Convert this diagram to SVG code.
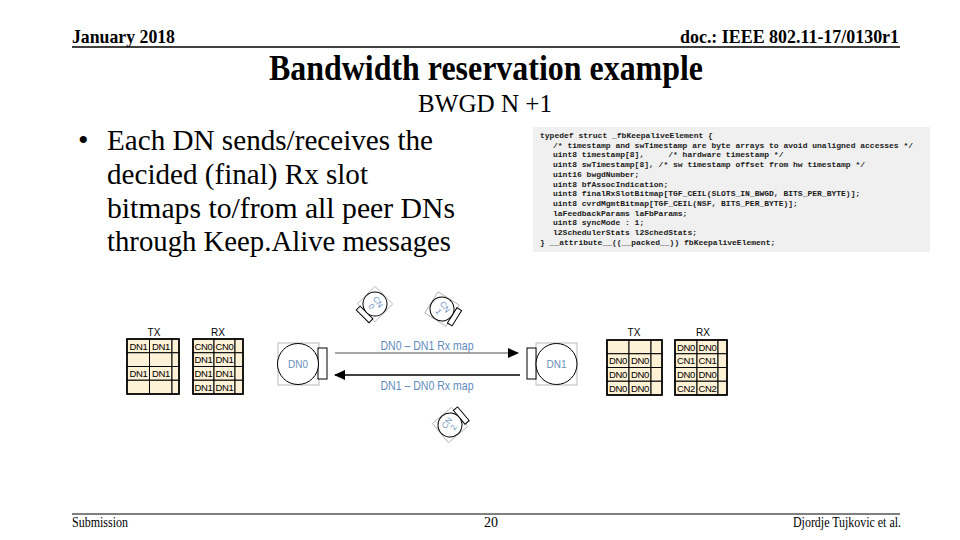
<svg xmlns="http://www.w3.org/2000/svg" width="960" height="540" viewBox="0 0 960 540">
<style>
.hdr{font-family:"Liberation Serif",serif;font-weight:bold;font-size:19px;fill:#000}
.ftr{font-family:"Liberation Serif",serif;font-size:14px;fill:#000}
.bul{font-family:"Liberation Serif",serif;font-size:30px;fill:#000}
.code{font-family:"Liberation Mono",monospace;font-size:8px;font-weight:bold;fill:#1a1a1a;white-space:pre}
.cell{fill:#fdf1d6;stroke:#000;stroke-width:1}
.outer{fill:none;stroke:#000;stroke-width:1.6}
.ct{font-family:"Liberation Sans",sans-serif;font-size:9.5px;letter-spacing:-0.3px;fill:#000;text-anchor:middle}
.lbl{font-family:"Liberation Sans",sans-serif;font-size:10px;fill:#000;text-anchor:middle}
.box{fill:none;stroke:#a8a8a8;stroke-width:0.8}
.circ{fill:#fff;stroke:#000;stroke-width:1}
.bar{fill:#fff;stroke:#000;stroke-width:1}
.nt{font-family:"Liberation Sans",sans-serif;fill:#6b8fbb;text-anchor:middle}
.al{font-family:"Liberation Sans",sans-serif;font-size:13px;fill:#5f8cbd;text-anchor:middle}
</style>
<defs>
<marker id="ah" markerUnits="userSpaceOnUse" markerWidth="12" markerHeight="10" refX="10" refY="5" orient="auto">
<path d="M0,0 L11,5 L0,10 Z" fill="#000"/>
</marker>
</defs>
<rect width="960" height="540" fill="#fff"/>

<g id="header">
<text class="hdr" x="72" y="43" textLength="103" lengthAdjust="spacingAndGlyphs">January 2018</text>
<text class="hdr" x="899" y="43" text-anchor="end" textLength="219" lengthAdjust="spacingAndGlyphs">doc.: IEEE 802.11-17/0130r1</text>
<line x1="72" y1="47" x2="900" y2="47" stroke="#000" stroke-width="1.5"/>
<text x="486" y="80" text-anchor="middle" font-family="Liberation Serif, serif" font-weight="bold" font-size="35" textLength="434" lengthAdjust="spacingAndGlyphs">Bandwidth reservation example</text>
<text x="485" y="112" text-anchor="middle" font-family="Liberation Serif, serif" font-size="25" textLength="134" lengthAdjust="spacingAndGlyphs">BWGD N +1</text>
</g>

<g id="bullets">
<text class="bul" x="78" y="150">•</text>
<text class="bul" x="107" y="150" textLength="326" lengthAdjust="spacingAndGlyphs">Each DN sends/receives the</text>
<text class="bul" x="107" y="184" textLength="261" lengthAdjust="spacingAndGlyphs">decided (final) Rx slot</text>
<text class="bul" x="107" y="218" textLength="348" lengthAdjust="spacingAndGlyphs">bitmaps to/from all peer DNs</text>
<text class="bul" x="107" y="251" textLength="344" lengthAdjust="spacingAndGlyphs">through Keep.Alive messages</text>
</g>

<g id="code">
<rect x="533" y="127" width="397" height="125" fill="#f0f0f0"/>
<text class="code" x="540" y="138">typedef struct _fbKeepaliveElement {</text>
<text class="code" x="553" y="147.7">/* timestamp and swTimestamp are byte arrays to avoid unaligned accesses */</text>
<text class="code" x="553" y="157.4">uint8 timestamp[8],     /* hardware timestamp */</text>
<text class="code" x="553" y="167.1">uint8 swTimestamp[8], /* sw timestamp offset from hw timestamp */</text>
<text class="code" x="553" y="176.8">uint16 bwgdNumber;</text>
<text class="code" x="553" y="186.5">uint8 bfAssocIndication;</text>
<text class="code" x="553" y="196.2">uint8 finalRxSlotBitmap[TGF_CEIL(SLOTS_IN_BWGD, BITS_PER_BYTE)];</text>
<text class="code" x="553" y="205.9">uint8 cvrdMgmtBitmap[TGF_CEIL(NSF, BITS_PER_BYTE)];</text>
<text class="code" x="553" y="215.6">laFeedbackParams laFbParams;</text>
<text class="code" x="553" y="225.3">uint8 syncMode : 1;</text>
<text class="code" x="553" y="235">l2SchedulerStats l2SchedStats;</text>
<text class="code" x="540" y="244.7">} __attribute__((__packed__)) fbKeepaliveElement;</text>
</g>

<g id="dn1-tables">
<text class="lbl" x="154" y="336">TX</text>
<g>
<rect class="cell" x="127" y="339" width="22.5" height="13.75"/><rect class="cell" x="149.5" y="339" width="22.5" height="13.75"/><rect class="cell" x="172" y="339" width="7" height="13.75"/>
<rect class="cell" x="127" y="352.75" width="22.5" height="13.75"/><rect class="cell" x="149.5" y="352.75" width="22.5" height="13.75"/><rect class="cell" x="172" y="352.75" width="7" height="13.75"/>
<rect class="cell" x="127" y="366.5" width="22.5" height="13.75"/><rect class="cell" x="149.5" y="366.5" width="22.5" height="13.75"/><rect class="cell" x="172" y="366.5" width="7" height="13.75"/>
<rect class="cell" x="127" y="380.25" width="22.5" height="13.75"/><rect class="cell" x="149.5" y="380.25" width="22.5" height="13.75"/><rect class="cell" x="172" y="380.25" width="7" height="13.75"/>
<rect class="outer" x="127" y="339" width="52" height="55"/>
<text class="ct" x="138.5" y="349.5">DN1</text><text class="ct" x="161" y="349.5">DN1</text>
<text class="ct" x="138.5" y="377">DN1</text><text class="ct" x="161" y="377">DN1</text>
</g>
<text class="lbl" x="218" y="336">RX</text>
<g>
<rect class="cell" x="193" y="339" width="21" height="13.75"/><rect class="cell" x="214" y="339" width="21" height="13.75"/><rect class="cell" x="235" y="339" width="8" height="13.75"/>
<rect class="cell" x="193" y="352.75" width="21" height="13.75"/><rect class="cell" x="214" y="352.75" width="21" height="13.75"/><rect class="cell" x="235" y="352.75" width="8" height="13.75"/>
<rect class="cell" x="193" y="366.5" width="21" height="13.75"/><rect class="cell" x="214" y="366.5" width="21" height="13.75"/><rect class="cell" x="235" y="366.5" width="8" height="13.75"/>
<rect class="cell" x="193" y="380.25" width="21" height="13.75"/><rect class="cell" x="214" y="380.25" width="21" height="13.75"/><rect class="cell" x="235" y="380.25" width="8" height="13.75"/>
<rect class="outer" x="193" y="339" width="50" height="55"/>
<text class="ct" x="203.5" y="349.5">CN0</text><text class="ct" x="224.5" y="349.5">CN0</text>
<text class="ct" x="203.5" y="363.2">DN1</text><text class="ct" x="224.5" y="363.2">DN1</text>
<text class="ct" x="203.5" y="377">DN1</text><text class="ct" x="224.5" y="377">DN1</text>
<text class="ct" x="203.5" y="390.7">DN1</text><text class="ct" x="224.5" y="390.7">DN1</text>
</g>
</g>

<g id="dn0-tables">
<text class="lbl" x="634" y="336">TX</text>
<g>
<rect class="cell" x="607" y="340" width="22" height="13.75"/><rect class="cell" x="629" y="340" width="22" height="13.75"/><rect class="cell" x="651" y="340" width="11" height="13.75"/>
<rect class="cell" x="607" y="353.75" width="22" height="13.75"/><rect class="cell" x="629" y="353.75" width="22" height="13.75"/><rect class="cell" x="651" y="353.75" width="11" height="13.75"/>
<rect class="cell" x="607" y="367.5" width="22" height="13.75"/><rect class="cell" x="629" y="367.5" width="22" height="13.75"/><rect class="cell" x="651" y="367.5" width="11" height="13.75"/>
<rect class="cell" x="607" y="381.25" width="22" height="13.75"/><rect class="cell" x="629" y="381.25" width="22" height="13.75"/><rect class="cell" x="651" y="381.25" width="11" height="13.75"/>
<rect class="outer" x="607" y="340" width="55" height="55"/>
<text class="ct" x="618" y="364.2">DN0</text><text class="ct" x="640" y="364.2">DN0</text>
<text class="ct" x="618" y="378">DN0</text><text class="ct" x="640" y="378">DN0</text>
<text class="ct" x="618" y="391.7">DN0</text><text class="ct" x="640" y="391.7">DN0</text>
</g>
<text class="lbl" x="703" y="336">RX</text>
<g>
<rect class="cell" x="675" y="340" width="22" height="13.75"/><rect class="cell" x="697" y="340" width="21" height="13.75"/><rect class="cell" x="718" y="340" width="9" height="13.75"/>
<rect class="cell" x="675" y="353.75" width="22" height="13.75"/><rect class="cell" x="697" y="353.75" width="21" height="13.75"/><rect class="cell" x="718" y="353.75" width="9" height="13.75"/>
<rect class="cell" x="675" y="367.5" width="22" height="13.75"/><rect class="cell" x="697" y="367.5" width="21" height="13.75"/><rect class="cell" x="718" y="367.5" width="9" height="13.75"/>
<rect class="cell" x="675" y="381.25" width="22" height="13.75"/><rect class="cell" x="697" y="381.25" width="21" height="13.75"/><rect class="cell" x="718" y="381.25" width="9" height="13.75"/>
<rect class="outer" x="675" y="340" width="52" height="55"/>
<text class="ct" x="686" y="350.5">DN0</text><text class="ct" x="707.5" y="350.5">DN0</text>
<text class="ct" x="686" y="364.2">CN1</text><text class="ct" x="707.5" y="364.2">CN1</text>
<text class="ct" x="686" y="378">DN0</text><text class="ct" x="707.5" y="378">DN0</text>
<text class="ct" x="686" y="391.7">CN2</text><text class="ct" x="707.5" y="391.7">CN2</text>
</g>
</g>

<g id="connectors">
<line x1="335" y1="353" x2="518" y2="353" stroke="#a6a6a6" stroke-width="2" marker-end="url(#ah)"/>
<line x1="520" y1="375" x2="335" y2="375" stroke="#404040" stroke-width="2" marker-end="url(#ah)"/>
<text class="al" x="427" y="350" textLength="93" lengthAdjust="spacingAndGlyphs">DN0 – DN1 Rx map</text>
<text class="al" x="427" y="390" textLength="93" lengthAdjust="spacingAndGlyphs">DN1 – DN0 Rx map</text>
</g>

<g id="dn0">
<rect class="box" x="278" y="343" width="41" height="42"/>
<rect class="bar" x="318" y="348" width="9" height="31"/>
<circle class="circ" cx="298" cy="364" r="20.5"/>
<text class="nt" x="298" y="367.5" font-size="10">DN0</text>
</g>

<g id="dn1">
<rect class="box" x="536" y="343" width="41" height="42"/>
<rect class="bar" x="527" y="348" width="9" height="31"/>
<circle class="circ" cx="556.5" cy="364" r="20.5"/>
<text class="nt" x="556.5" y="367.5" font-size="10">DN1</text>
</g>

<g id="cn0" transform="translate(375,304)">
<g transform="rotate(135)">
<rect class="box" x="-12.5" y="-12.5" width="25" height="25"/>
<rect class="bar" x="12" y="-9" width="5.5" height="18"/>
<circle class="circ" cx="0" cy="0" r="12"/>
</g>
<g transform="rotate(55)">
<text class="nt" x="0" y="-1" font-size="8">CN</text>
<text class="nt" x="0" y="7" font-size="8">0</text>
</g>
</g>

<g id="cn1" transform="translate(442,309)">
<g transform="rotate(32)">
<rect class="box" x="-12.5" y="-12.5" width="25" height="25"/>
<rect class="bar" x="12" y="-9" width="5.5" height="18"/>
<circle class="circ" cx="0" cy="0" r="12"/>
</g>
<g transform="rotate(55)">
<text class="nt" x="0" y="-1" font-size="8">CN</text>
<text class="nt" x="0" y="7" font-size="8">1</text>
</g>
</g>

<g id="cn2" transform="translate(450,425)">
<g transform="rotate(-40)">
<rect class="box" x="-12.5" y="-12.5" width="25" height="25"/>
<rect class="bar" x="12" y="-9" width="5.5" height="18"/>
<circle class="circ" cx="0" cy="0" r="12"/>
</g>
<g transform="rotate(-55)">
<text class="nt" x="0" y="-1" font-size="8">CN</text>
<text class="nt" x="0" y="7" font-size="8">2</text>
</g>
</g>

<g id="footer">
<line x1="72" y1="514" x2="900" y2="514" stroke="#000" stroke-width="1"/>
<text class="ftr" x="72" y="527" textLength="56" lengthAdjust="spacingAndGlyphs">Submission</text>
<text class="ftr" x="491" y="527" text-anchor="middle">20</text>
<text class="ftr" x="901" y="527" text-anchor="end" textLength="108" lengthAdjust="spacingAndGlyphs">Djordje Tujkovic et al.</text>
</g>
</svg>
